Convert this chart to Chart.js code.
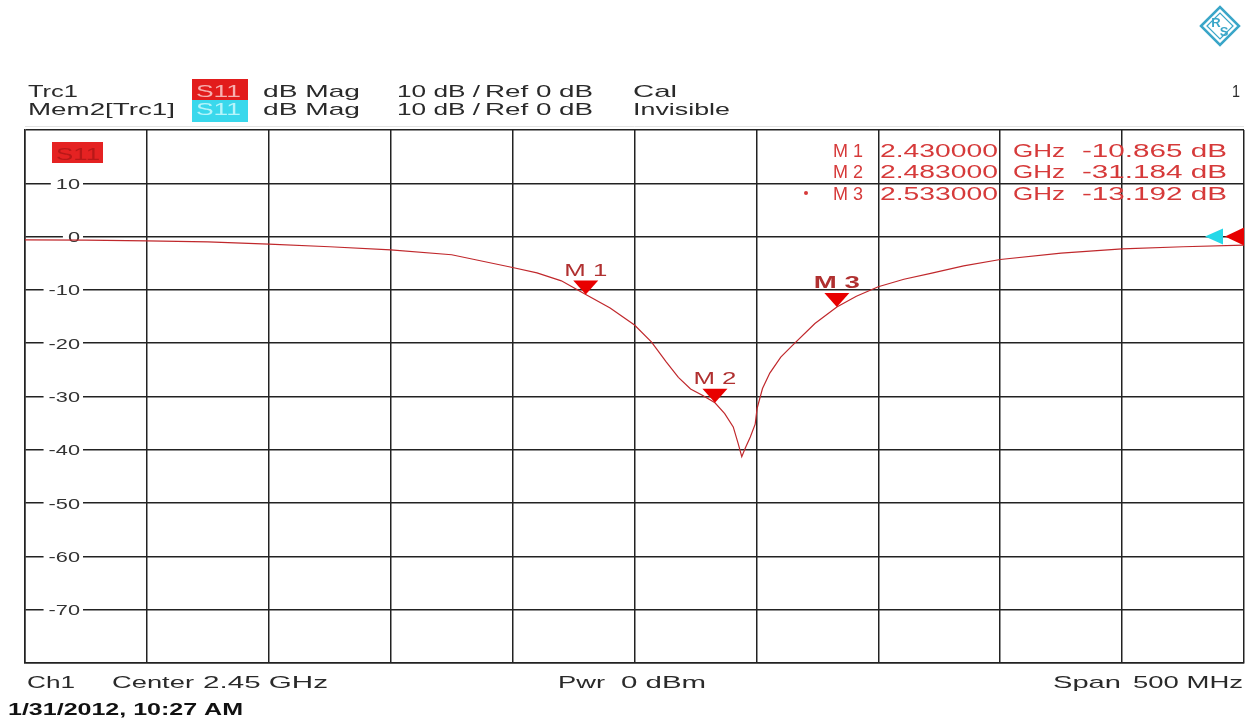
<!DOCTYPE html>
<html>
<head>
<meta charset="utf-8">
<script src="https://cdn.jsdelivr.net/npm/chart.js@4.4.1/dist/chart.umd.min.js"></script>
<style>
  body { margin: 0; background: #fff; }
  canvas { display: block; }
</style>
</head>
<body>
<canvas id="vna" width="1256" height="720"></canvas>
<script>
// trace S11, frequency in GHz, magnitude in dB
const freqGHz = [2.200, 2.225, 2.250, 2.275, 2.300, 2.325, 2.350, 2.375, 2.400, 2.410,
  2.420, 2.430, 2.440, 2.450, 2.457, 2.463, 2.468, 2.473, 2.478, 2.483,
  2.487, 2.4905, 2.4925, 2.494, 2.4955, 2.4975, 2.4995, 2.5003, 2.5025, 2.5055,
  2.510, 2.515, 2.524, 2.533, 2.541, 2.550, 2.5605, 2.5715, 2.585, 2.600,
  2.625, 2.650, 2.675, 2.700];
const s11dB = [-0.6, -0.65, -0.8, -1.0, -1.4, -1.9, -2.5, -3.4, -5.8, -6.8,
  -8.3, -10.87, -13.4, -16.6, -19.8, -23.5, -26.4, -28.6, -29.8, -31.18,
  -33.2, -35.7, -38.8, -41.3, -39.6, -37.6, -35.2, -32.2, -28.5, -25.6,
  -22.6, -20.3, -16.3, -13.19, -11.2, -9.4, -8.0, -6.9, -5.5, -4.3,
  -3.1, -2.3, -1.9, -1.6];

// markers
const markerNames = ['M 1', 'M 2', 'M 3'];
const markerFreq = [2.430, 2.483, 2.533];
const markerDb = [-10.865, -31.184, -13.192];

// grid
const xTicks = [2.20, 2.25, 2.30, 2.35, 2.40, 2.45, 2.50, 2.55, 2.60, 2.65, 2.70];
const yTicks = [20, 10, 0, -10, -20, -30, -40, -50, -60, -70, -80];
const yLabels = [10, 0, -10, -20, -30, -40, -50, -60, -70];
const refLevel = 0;

const FONT = '"Liberation Sans", Arial, sans-serif';

// draw text stretched to a width (the screen font is wide)
function fitText(ctx, str, x, y, w, size, color, bold, align) {
  ctx.save();
  ctx.font = (bold ? 'bold ' : '') + size + 'px ' + FONT;
  ctx.fillStyle = color;
  ctx.textBaseline = 'alphabetic';
  ctx.textAlign = 'left';
  const m = ctx.measureText(str).width;
  const sx = w / m;
  let left = x;
  if (align === 'right') left = x - w;
  if (align === 'center') left = x - w / 2;
  ctx.translate(left, y);
  ctx.scale(sx, 1);
  ctx.fillText(str, 0, 0);
  ctx.restore();
}

function stretchText(ctx, str, x, y, sx, size, color, bold, align) {
  ctx.save();
  ctx.font = (bold ? 'bold ' : '') + size + 'px ' + FONT;
  const w = ctx.measureText(str).width * sx;
  ctx.restore();
  fitText(ctx, str, x, y, w, size, color, bold, align);
}

const annotations = {
  id: 'annotations',
  beforeDatasetsDraw(chart) {
    const ctx = chart.ctx;
    const y = chart.scales.y;
    // y labels sit inside the grid, on white
    yLabels.forEach(v => {
      const py = y.getPixelForValue(v);
      const str = String(v);
      ctx.save();
      ctx.font = '15px ' + FONT;
      const w = ctx.measureText(str).width * 1.45;
      ctx.fillStyle = '#fff';
      ctx.fillRect(80 - w - 5, py - 3, w + 8, 6);
      ctx.restore();
      stretchText(ctx, str, 80, py + 5.5, 1.45, 15, '#333', false, 'right');
    });
    // S11 tag in the plot
    ctx.fillStyle = '#e52222';
    ctx.fillRect(52, 142, 51, 21);
    fitText(ctx, 'S11', 56, 160, 44, 17, '#b81818', false);
    // marker table
    const red = '#d63a3a';
    const rows = [157, 178, 200];
    const vals = ['2.430000', '2.483000', '2.533000'];
    const dbs = ['-10.865 dB', '-31.184 dB', '-13.192 dB'];
    rows.forEach((b, i) => {
      fitText(ctx, markerNames[i], 863, b, 30, 18, red, false, 'right');
      fitText(ctx, vals[i], 880, b, 118, 18, red, false);
      fitText(ctx, 'GHz', 1013, b, 52, 18, red, false);
      fitText(ctx, dbs[i], 1227, b, 145, 18, red, false, 'right');
    });
    ctx.fillStyle = red;
    ctx.beginPath();
    ctx.arc(806, 193, 2, 0, Math.PI * 2);
    ctx.fill();
  },
  afterDatasetsDraw(chart) {
    const ctx = chart.ctx;
    const xs = chart.scales.x, ys = chart.scales.y;
    // marker triangles and names
    markerFreq.forEach((f, i) => {
      const px = xs.getPixelForValue(f);
      const py = ys.getPixelForValue(markerDb[i]);
      ctx.fillStyle = '#e80000';
      ctx.beginPath();
      ctx.moveTo(px, py);
      ctx.lineTo(px - 12.5, py - 14);
      ctx.lineTo(px + 12.5, py - 14);
      ctx.closePath();
      ctx.fill();
      const bold = i === 2;
      fitText(ctx, markerNames[i], px, py - 19, bold ? 46 : 43, 17, '#b03030', bold, 'center');
    });
    // reference level arrows on the right edge
    const ry = ys.getPixelForValue(refLevel);
    const right = chart.chartArea.right;
    ctx.fillStyle = '#25d8e8';
    ctx.beginPath();
    ctx.moveTo(right - 39, ry);
    ctx.lineTo(right - 21, ry - 8);
    ctx.lineTo(right - 21, ry + 8);
    ctx.closePath();
    ctx.fill();
    ctx.fillStyle = '#e60000';
    ctx.beginPath();
    ctx.moveTo(right - 19, ry);
    ctx.lineTo(right, ry - 9);
    ctx.lineTo(right, ry + 9);
    ctx.closePath();
    ctx.fill();
  },
  afterDraw(chart) {
    const ctx = chart.ctx;
    const dark = '#2a2a2a';
    // header
    fitText(ctx, 'Trc1', 28, 97, 50, 17, dark, false);
    fitText(ctx, 'Mem2[Trc1]', 28, 115, 147, 17, dark, false);
    ctx.fillStyle = '#e21c1c';
    ctx.fillRect(192, 79, 56, 21);
    ctx.fillStyle = '#3ad8ec';
    ctx.fillRect(192, 100, 56, 22);
    fitText(ctx, 'S11', 196, 97, 45, 17, '#f6b0b0', false);
    fitText(ctx, 'S11', 196, 115, 45, 17, '#b8f4fa', false);
    [97, 115].forEach(b => {
      fitText(ctx, 'dB Mag', 263, b, 97, 17, dark, false);
      fitText(ctx, '10 dB /', 397, b, 83, 17, dark, false);
      fitText(ctx, 'Ref 0 dB', 485, b, 108, 17, dark, false);
    });
    fitText(ctx, 'Cal', 633, 97, 44, 17, dark, false);
    fitText(ctx, 'Invisible', 633, 115, 97, 17, dark, false);
    fitText(ctx, '1', 1240, 97, 8, 17, dark, false, 'right');
    ctx.strokeStyle = '#e2e2e2';
    ctx.lineWidth = 1;
    ctx.beginPath();
    ctx.moveTo(25, 126.5);
    ctx.lineTo(1244, 126.5);
    ctx.stroke();
    // footer
    fitText(ctx, 'Ch1', 27, 688, 48, 17, dark, false);
    fitText(ctx, 'Center', 112, 688, 82, 17, dark, false);
    fitText(ctx, '2.45 GHz', 203, 688, 125, 17, dark, false);
    fitText(ctx, 'Pwr', 558, 688, 47, 17, dark, false);
    fitText(ctx, '0 dBm', 621, 688, 85, 17, dark, false);
    fitText(ctx, 'Span', 1053, 688, 68, 17, dark, false);
    fitText(ctx, '500 MHz', 1243, 688, 110, 17, dark, false, 'right');
    fitText(ctx, '1/31/2012, 10:27 AM', 8, 715, 235, 16, '#111', true);
    // R&S logo
    ctx.save();
    ctx.strokeStyle = '#3aa6c8';
    ctx.lineWidth = 2.5;
    ctx.beginPath();
    ctx.moveTo(1201, 26); ctx.lineTo(1220, 7); ctx.lineTo(1239, 26); ctx.lineTo(1220, 45);
    ctx.closePath();
    ctx.stroke();
    ctx.lineWidth = 1.2;
    ctx.beginPath();
    ctx.moveTo(1207, 26); ctx.lineTo(1220, 13); ctx.lineTo(1233, 26); ctx.lineTo(1220, 39);
    ctx.closePath();
    ctx.stroke();
    ctx.fillStyle = '#3aa6c8';
    ctx.font = 'bold 13px ' + FONT;
    ctx.textAlign = 'center';
    ctx.fillText('R', 1216, 27);
    ctx.fillText('S', 1224, 36);
    ctx.restore();
  }
};

new Chart(document.getElementById('vna'), {
  type: 'line',
  data: {
    datasets: [{
      label: 'S11',
      data: freqGHz.map((f, i) => ({ x: f, y: s11dB[i] })),
      borderColor: '#c0282c',
      borderWidth: 1.2,
      pointRadius: 0,
      tension: 0
    }]
  },
  options: {
    responsive: false,
    animation: false,
    layout: { padding: { left: 25, right: 12, top: 130, bottom: 57 } },
    plugins: { legend: { display: false }, tooltip: { enabled: false } },
    scales: {
      x: {
        type: 'linear',
        min: 2.2,
        max: 2.7,
        afterBuildTicks: s => { s.ticks = xTicks.map(v => ({ value: v })); },
        afterFit: s => { s.height = 0; },
        ticks: { display: false },
        grid: { color: '#222', lineWidth: 1.5, drawTicks: false },
        border: { color: '#222', width: 1.5 }
      },
      y: {
        min: -80,
        max: 20,
        afterBuildTicks: s => { s.ticks = yTicks.map(v => ({ value: v })); },
        afterFit: s => { s.width = 0; },
        ticks: { display: false },
        grid: { color: '#222', lineWidth: 1.5, drawTicks: false },
        border: { color: '#222', width: 1.5 }
      }
    }
  },
  plugins: [annotations]
});
</script>
</body>
</html>
